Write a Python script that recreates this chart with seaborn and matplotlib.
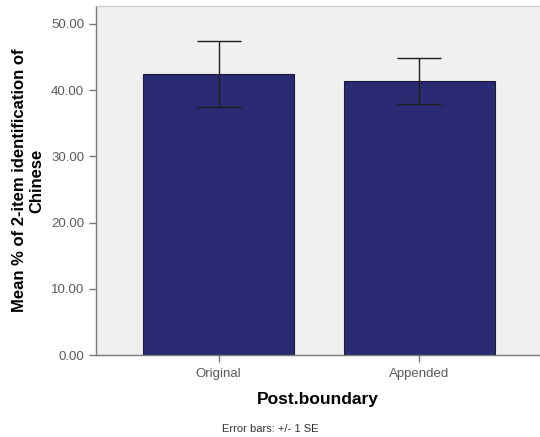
import matplotlib
matplotlib.use("Agg")
import matplotlib.pyplot as plt
import seaborn as sns
import pandas as pd

# Group means and standard errors
categories = ["Original", "Appended"]
means = [42.4, 41.4]
std_errors = [4.95, 3.5]
y_ticks = [0, 10, 20, 30, 40, 50]

sns.set_style("white")
plt.rcParams["font.family"] = ["Liberation Sans", "DejaVu Sans"]

df = pd.DataFrame({"Post.boundary": categories, "mean": means, "se": std_errors})

fig = plt.figure(figsize=(5.40, 4.37), dpi=100)
ax = fig.add_axes([0.1778, 0.1876, 0.8222, 0.7986])
ax.set_facecolor("#f0f0f0")

sns.barplot(data=df, x="Post.boundary", y="mean", order=categories,
            color="#2a2a72", saturation=1, width=0.75,
            edgecolor="#1a1a3a", linewidth=0.8, errorbar=None, ax=ax)

ax.errorbar(range(len(categories)), df["mean"], yerr=df["se"], fmt="none",
            ecolor="#1e1e1e", elinewidth=1.0, capsize=16, capthick=1.0,
            zorder=5)

ax.set_xlim(-0.61, 1.6)
ax.set_ylim(0, 52.7)
ax.set_yticks(y_ticks)
ax.set_yticklabels([f"{v:.2f}" for v in y_ticks])

for side in ["left", "bottom"]:
    ax.spines[side].set_color("#7a7a7a")
    ax.spines[side].set_linewidth(1.0)
ax.spines["top"].set_color("#c8c8c8")
ax.spines["right"].set_visible(False)

ax.tick_params(axis="both", direction="out", length=5, width=1.0,
               color="#7a7a7a", labelcolor="#5a5a5a", labelsize=9.5,
               left=True, bottom=True)
ax.tick_params(axis="x", pad=4)

ax.set_xlabel("Post.boundary", fontsize=12.5, fontweight="bold",
              labelpad=9, color="black")
ax.set_ylabel("Mean % of 2-item identification of\nChinese", fontsize=12,
              fontweight="bold", labelpad=5, linespacing=1.15, color="black")

fig.text(0.5, 0.008, "Error bars: +/- 1 SE", ha="center", va="bottom",
         fontsize=8, color="#333333")

fig.savefig("out.png", dpi=100)
